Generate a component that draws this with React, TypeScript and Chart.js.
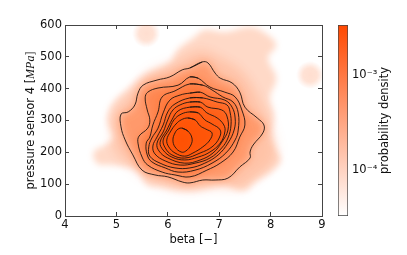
import React, { useEffect, useRef } from "react";
import { Chart, registerables } from "chart.js";

const xTicks = { min: 4, max: 9, step: 1 };
const yTicks = { min: 0, max: 600, step: 100 };
const colorbarRange = [3.28e-5, 3.36e-3];
const colorbarTicks = [1e-4, 1e-3];
const colorbarLabels: Record<string, string> = { "0.0001": "10⁻⁴", "0.001": "10⁻³" };

const xTitle = "beta [−]";
const yTitle = ["pressure sensor 4 [", "MPa", "]"];
const barTitle = "probability density";

const isolatedBlobs = [[5.58, 573], [8.77, 443]];

const cloudOuter = [
  [6.49, 559], [6.72, 584], [7.11, 578], [7.6, 594], [7.89, 575], [8.11, 537], [7.95, 496], [8.11, 433],
  [7.99, 374], [8.07, 317], [8.03, 254], [8.12, 207], [8.2, 176], [8.03, 141], [7.68, 104], [7.48, 79],
  [7.09, 94], [6.63, 82], [6.28, 79], [5.85, 91], [5.6, 97], [5.4, 141], [5.17, 154], [4.88, 160],
  [4.62, 166], [4.56, 201], [4.78, 223], [4.93, 245], [4.84, 286], [4.82, 311], [4.93, 355], [5.26, 405],
  [5.52, 443], [6.04, 484], [6.18, 521],
];
const cloudMiddle = [
  [6.63, 521], [7.11, 490], [7.5, 443], [7.83, 349], [8.03, 270], [8.09, 182], [7.7, 119], [7.4, 88],
  [6.92, 88], [6.28, 82], [5.65, 113], [5.26, 160], [4.97, 207], [4.91, 286], [5.03, 339], [5.36, 396],
  [5.65, 452], [6.14, 484],
];

const contour1 = [
  [6.43, 465], [6.67, 484], [6.78, 481], [6.92, 449], [7.02, 433], [7.25, 418], [7.4, 389], [7.5, 342],
  [7.74, 308], [7.87, 286], [7.85, 261], [7.66, 223], [7.6, 201], [7.6, 182], [7.4, 154], [7.17, 119],
  [6.92, 113], [6.68, 113], [6.43, 104], [6.28, 107], [6.0, 123], [5.75, 129], [5.5, 144], [5.32, 192],
  [5.17, 239], [5.09, 280], [5.09, 320], [5.23, 327], [5.36, 349], [5.42, 386], [5.52, 411], [5.79, 427],
  [6.04, 437], [6.28, 459],
];
const contour2 = [
  [6.43, 437], [6.59, 433], [6.82, 405], [7.11, 389], [7.31, 374], [7.44, 333], [7.5, 286], [7.4, 248],
  [7.27, 201], [7.02, 166], [6.76, 144], [6.43, 123], [6.14, 129], [5.89, 138], [5.61, 160], [5.5, 185],
  [5.42, 229], [5.44, 251], [5.61, 276], [5.65, 302], [5.6, 333], [5.56, 371], [5.61, 389], [5.81, 402],
  [6.2, 411],
];
const contour3 = [
  [6.43, 415], [6.68, 411], [6.86, 396], [7.07, 374], [7.27, 358], [7.37, 324], [7.37, 270], [7.31, 239],
  [7.13, 198], [6.86, 166], [6.53, 144], [6.2, 138], [5.95, 151], [5.69, 170], [5.6, 192], [5.58, 229],
  [5.65, 248], [5.71, 286], [5.81, 327], [5.89, 374], [6.14, 393],
];
const contour4 = [
  [6.43, 386], [6.63, 389], [6.82, 374], [7.11, 364], [7.25, 342], [7.31, 308], [7.29, 270], [7.17, 229],
  [6.98, 192], [6.72, 166], [6.43, 151], [6.14, 151], [5.85, 166], [5.65, 188], [5.63, 217], [5.69, 245],
  [5.81, 276], [5.91, 324], [6.04, 364], [6.24, 380],
];
const contour5 = [
  [6.43, 371], [6.68, 371], [6.96, 358], [7.15, 349], [7.21, 327], [7.23, 286], [7.17, 245], [7.05, 214],
  [6.82, 182], [6.53, 166], [6.24, 160], [5.95, 173], [5.75, 195], [5.71, 220], [5.79, 248], [5.91, 286],
  [6.0, 327], [6.14, 352],
];
const contour6 = [
  [6.43, 358], [6.63, 358], [6.78, 342], [7.05, 333], [7.15, 314], [7.17, 270], [7.05, 232], [6.88, 198],
  [6.63, 176], [6.33, 166], [6.0, 182], [5.83, 204], [5.79, 229], [5.91, 264], [6.0, 302], [6.1, 333],
  [6.24, 349],
];
const contour7 = [
  [6.43, 342], [6.63, 342], [6.76, 324], [6.96, 308], [7.09, 286], [7.11, 264], [7.02, 229], [6.82, 201],
  [6.59, 185], [6.33, 176], [6.08, 185], [5.91, 207], [5.85, 232], [5.98, 270], [6.08, 302], [6.2, 330],
];
const contour8 = [
  [6.43, 327], [6.59, 324], [6.72, 302], [6.86, 289], [7.02, 270], [7.0, 245], [6.86, 217], [6.63, 198],
  [6.33, 182], [6.08, 192], [5.95, 214], [5.91, 239], [6.02, 270], [6.12, 302], [6.26, 320],
];
const contour9 = [
  [6.39, 308], [6.53, 302], [6.63, 283], [6.74, 273], [6.86, 261], [6.82, 239], [6.68, 217], [6.49, 198],
  [6.33, 188], [6.14, 198], [6.02, 217], [5.98, 239], [6.06, 267], [6.16, 289], [6.26, 302],
];
const contour10 = [
  [6.28, 276], [6.39, 267], [6.47, 245], [6.45, 223], [6.35, 204], [6.26, 201], [6.14, 217], [6.1, 239],
  [6.14, 261], [6.2, 273],
];
const contours = [contour1, contour2, contour3, contour4, contour5, contour6, contour7, contour8, contour9, contour10];
const contourFillAlpha = [0.36, 0.26, 0.22, 0.22, 0.28, 0.3, 0.3, 0.3, 0.4, 0.6];
const cloudFillAlpha = [0.22, 0.16];

const ORANGE = "255,80,0";
const INK = "#111";
const SPINE = "#444";
const FAMILY = "'DejaVu Sans'";
const FONT_SIZE = 11.5;

const asPoints = (c: number[][]) => c.map(([x, y]) => ({ x, y }));
const closed = (c: number[][]) => asPoints([...c, c[0], c[1]]);

function makeBlobSprite() {
  const size = 32;
  const cv = document.createElement("canvas");
  cv.width = size;
  cv.height = size;
  const g = cv.getContext("2d")!;
  const grad = g.createRadialGradient(16, 16, 0, 16, 16, 14);
  grad.addColorStop(0, `rgba(${ORANGE},0.19)`);
  grad.addColorStop(0.5, `rgba(${ORANGE},0.17)`);
  grad.addColorStop(1, `rgba(${ORANGE},0)`);
  g.fillStyle = grad;
  g.fillRect(0, 0, size, size);
  return cv;
}

// Registered ahead of the filler so the soft filter wraps each density layer's fill.
const softFill = {
  id: "softFill",
  beforeDatasetDraw(chart: any, args: any) {
    const soft = chart.data.datasets[args.index].soft;
    if (soft) {
      chart.ctx.save();
      chart.ctx.filter = `blur(${soft}px)`;
    }
  },
  afterDatasetDraw(chart: any, args: any) {
    if (chart.data.datasets[args.index].soft) chart.ctx.restore();
  },
};

Chart.register(softFill, ...registerables);

const yTitlePlugin = {
  id: "yTitle",
  afterDraw(chart: any) {
    const { ctx, chartArea } = chart;
    const fonts = [`${FONT_SIZE}px ${FAMILY}`, `italic 12px 'Liberation Serif'`, `12px 'Liberation Serif'`];
    const parts = [yTitle[0], yTitle[1], yTitle[2]];
    ctx.save();
    const widths = parts.map((t, i) => {
      ctx.font = fonts[i];
      return ctx.measureText(t).width;
    });
    const total = widths.reduce((a, b) => a + b, 0);
    ctx.translate(34, (chartArea.top + chartArea.bottom) / 2);
    ctx.rotate(-Math.PI / 2);
    ctx.fillStyle = INK;
    ctx.textBaseline = "alphabetic";
    let x = -total / 2;
    parts.forEach((t, i) => {
      ctx.font = fonts[i];
      ctx.fillText(t, x, 0);
      x += widths[i];
    });
    ctx.restore();
  },
};

const barTitlePlugin = {
  id: "barTitle",
  afterDraw(chart: any) {
    const { ctx, chartArea } = chart;
    ctx.save();
    ctx.font = `${FONT_SIZE}px ${FAMILY}`;
    ctx.fillStyle = INK;
    ctx.textAlign = "center";
    ctx.textBaseline = "alphabetic";
    ctx.translate(388, (chartArea.top + chartArea.bottom) / 2);
    ctx.rotate(-Math.PI / 2);
    ctx.fillText(barTitle, 0, 0);
    ctx.restore();
  },
};

const inwardGrid = { drawOnChartArea: false, drawTicks: true, tickLength: -4, tickColor: SPINE };
const spine = { display: true, color: SPINE, width: 1 };
const tickFont = { family: FAMILY, size: FONT_SIZE };

const softLayer = (c: number[][], alpha: number, blur: number, order: number) => ({
  data: closed(c),
  showLine: true,
  tension: 0.4,
  soft: blur,
  borderWidth: 0,
  borderColor: "rgba(0,0,0,0)",
  backgroundColor: `rgba(${ORANGE},${alpha})`,
  pointRadius: 0,
  fill: "shape",
  order,
});

export default function App() {
  const mainRef = useRef<HTMLCanvasElement>(null);
  const barRef = useRef<HTMLCanvasElement>(null);

  useEffect(() => {
    const sprite = makeBlobSprite();
    const main = new Chart(mainRef.current!, {
      type: "scatter",
      data: {
        datasets: [
          ...contours.map((c) => ({
            data: closed(c),
            showLine: true,
            tension: 0.4,
            borderColor: "rgba(30,20,15,0.9)",
            borderWidth: 1,
            pointRadius: 0,
            order: 1,
            fill: false,
          })),
          ...contours.map((c, i) => softLayer(c, contourFillAlpha[i], 4, 20)),
          softLayer(cloudOuter, cloudFillAlpha[0], 3, 25),
          softLayer(cloudMiddle, cloudFillAlpha[1], 6, 25),
          {
            data: asPoints(isolatedBlobs),
            pointStyle: sprite,
            pointRadius: 15,
            showLine: false,
            order: 30,
          },
        ] as any,
      },
      options: {
        animation: false,
        responsive: false,
        devicePixelRatio: 1,
        layout: { padding: { left: 0, top: 25, right: 85, bottom: 0 } },
        plugins: { legend: { display: false }, tooltip: { enabled: false } },
        scales: {
          x: {
            type: "linear",
            min: xTicks.min,
            max: xTicks.max,
            position: "bottom",
            afterFit: (s: any) => { s.height = 39; },
            ticks: { stepSize: xTicks.step, font: tickFont, color: INK, padding: 6, maxRotation: 0 },
            grid: inwardGrid,
            border: spine,
            title: { display: true, text: xTitle, font: tickFont, color: INK, padding: { top: 0, bottom: 8 } },
          },
          y: {
            type: "linear",
            min: yTicks.min,
            max: yTicks.max,
            position: "left",
            afterFit: (s: any) => { s.width = 65; },
            ticks: { stepSize: yTicks.step, font: tickFont, color: INK, padding: 7 },
            grid: inwardGrid,
            border: spine,
          },
          x2: {
            type: "linear",
            min: xTicks.min,
            max: xTicks.max,
            position: "top",
            afterFit: (s: any) => { s.height = 0; },
            ticks: { stepSize: xTicks.step, display: false },
            grid: inwardGrid,
            border: spine,
          },
          y2: {
            type: "linear",
            min: yTicks.min,
            max: yTicks.max,
            position: "right",
            afterFit: (s: any) => { s.width = 0; },
            ticks: { stepSize: yTicks.step, display: false },
            grid: inwardGrid,
            border: spine,
          },
        },
      } as any,
      plugins: [yTitlePlugin],
    });

    const bar = new Chart(barRef.current!, {
      type: "bar",
      data: {
        labels: [""],
        datasets: [
          {
            data: [colorbarRange as any],
            barPercentage: 1,
            categoryPercentage: 1,
            borderSkipped: false,
            borderWidth: 1,
            borderColor: SPINE,
            backgroundColor: (ctx: any) => {
              const area = ctx.chart.chartArea;
              if (!area) return "rgb(255,80,0)";
              const g = ctx.chart.ctx.createLinearGradient(0, area.bottom, 0, area.top);
              g.addColorStop(0, "rgb(255,255,255)");
              g.addColorStop(1, "rgb(255,72,0)");
              return g;
            },
          },
        ],
      },
      options: {
        animation: false,
        responsive: false,
        devicePixelRatio: 1,
        layout: { padding: { left: 338, top: 25, right: 0, bottom: 39 } },
        plugins: { legend: { display: false }, tooltip: { enabled: false } },
        scales: {
          x: { type: "category", display: false },
          y: {
            type: "logarithmic",
            position: "right",
            min: colorbarRange[0],
            max: colorbarRange[1],
            afterFit: (s: any) => { s.width = 59; },
            afterBuildTicks: (s: any) => { s.ticks = colorbarTicks.map((value) => ({ value })); },
            ticks: {
              font: tickFont,
              color: INK,
              padding: 7,
              callback: (v: any) => colorbarLabels[String(v)] ?? "",
            },
            grid: { drawOnChartArea: false, drawTicks: true, tickLength: -3, tickColor: SPINE },
            border: { display: false },
          },
        },
      } as any,
      plugins: [barTitlePlugin],
    });

    return () => {
      main.destroy();
      bar.destroy();
    };
  }, []);

  const canvasStyle: React.CSSProperties = { position: "absolute", left: 0, top: 0 };
  return (
    <div style={{ position: "fixed", left: 0, top: 0, width: 407, height: 255, overflow: "hidden", background: "#fff" }}>
      <canvas ref={mainRef} width={407} height={255} style={canvasStyle} />
      <canvas ref={barRef} width={407} height={255} style={canvasStyle} />
    </div>
  );
}
